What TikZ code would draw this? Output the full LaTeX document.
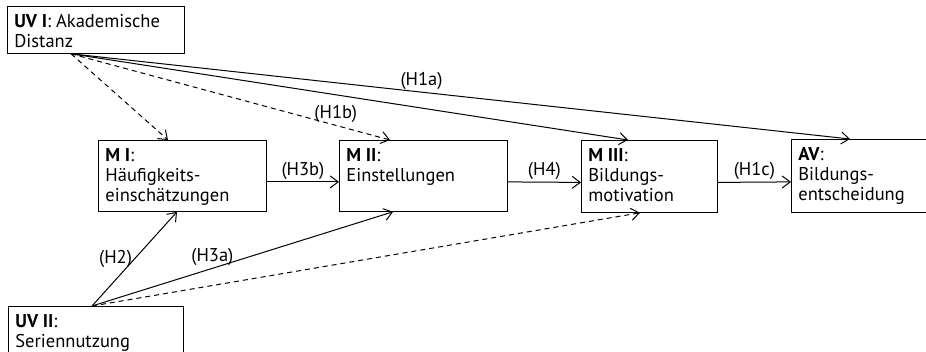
\documentclass[tikz,border=0pt]{standalone}
\usepackage{fontspec}
\setmainfont{PT Sans}
\usetikzlibrary{arrows.meta}

% Top-aligned text block of fixed size inside a box
\newcommand{\boxtext}[3]{\parbox[t][#2][t]{#1}{\strut #3}}

\begin{document}
\begin{tikzpicture}[
    x=1pt, y=-1pt,
    >={Straight Barb[length=8pt, width=12pt]}, % Open arrow heads
    % Styles
    var/.style={ % Variable box
        draw,
        anchor=north west,
        line width=0.8pt,
        inner xsep=7pt,
        inner ysep=7pt,
        font=\fontsize{18.5}{20}\selectfont
    },
    arrow/.style={
        ->,
        line width=1pt
    },
    weak/.style={ % Dashed paths
        arrow,
        dash pattern=on 5pt off 4pt
    },
    hyp/.style={ % Hypothesis labels
        font=\fontsize{18.5}{20}\selectfont,
        inner sep=2pt
    }
]
    \clip (0,0) rectangle (926,351);

    % Variable boxes
    \node[var] (uvi) at (7,6) {\boxtext{163pt}{33pt}{\textbf{UV I}: Akademische\\Distanz}};
    \node[var] (mi) at (98,140) {\boxtext{154pt}{57pt}{\textbf{M I}:\\Häufigkeits-\\einschätzungen}};
    \node[var] (mii) at (339,140) {\boxtext{154pt}{57pt}{\textbf{M II}:\\Einstellungen}};
    \node[var] (miii) at (581,140) {\boxtext{122pt}{58pt}{\textbf{M III}:\\Bildungs-\\motivation}};
    \node[var] (av) at (791,139) {\boxtext{146pt}{59pt}{\textbf{AV}:\\Bildungs-\\entscheidung}};
    \node[var] (uvii) at (8,306) {\boxtext{161pt}{46pt}{\textbf{UV II}:\\Seriennutzung}};

    % Chain of mediators
    \draw[arrow] ([yshift=-6pt]mi.east) -- node[hyp, above] {(H3b)} ([yshift=-6pt]mii.west);
    \draw[arrow] ([yshift=-6pt]mii.east) -- node[hyp, above] {(H4)} ([yshift=-6pt]miii.west);
    \draw[arrow] ([yshift=-6pt]miii.east) -- node[hyp, above] {(H1c)} ([yshift=-6pt]av.west);

    % Paths from UV I
    \draw[weak] ([xshift=64pt]uvi.south west) -- ([xshift=70pt]mi.north west);
    \draw[weak] ([xshift=64pt]uvi.south west) -- node[hyp, above, pos=0.83] {(H1b)} ([xshift=51pt]mii.north west);
    \draw[arrow] ([xshift=64pt]uvi.south west) -- ([xshift=47pt]miii.north west);
    \draw[arrow] ([xshift=64pt]uvi.south west) -- node[hyp, above, pos=0.45] {(H1a)} ([xshift=59pt]av.north west);

    % Paths from UV II
    \draw[arrow] ([xshift=84pt]uvii.north west) -- node[hyp, left, pos=0.5] {(H2)} ([xshift=79pt]mi.south west);
    \draw[arrow] ([xshift=84pt]uvii.north west) -- node[hyp, above, pos=0.4] {(H3a)} ([xshift=54pt]mii.south west);
    \draw[weak] ([xshift=84pt]uvii.north west) -- ([xshift=59pt]miii.south west);
\end{tikzpicture}
\end{document}
